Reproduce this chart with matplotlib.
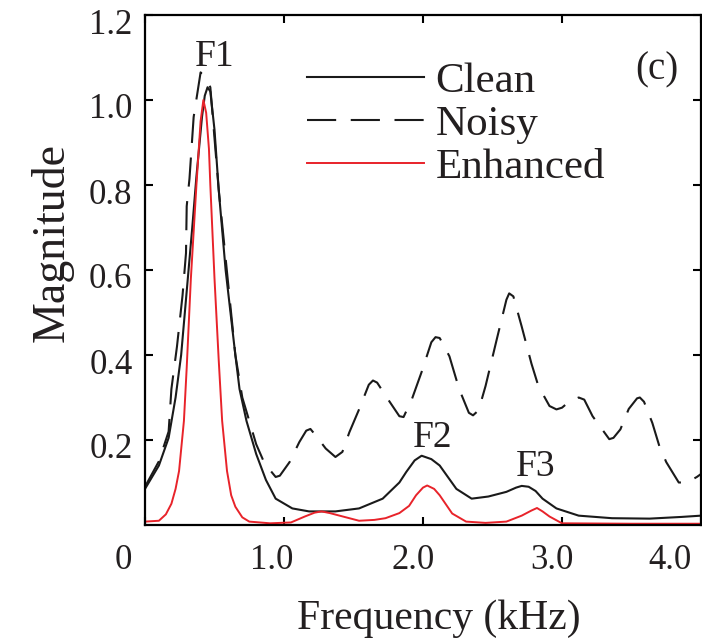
import matplotlib
matplotlib.use("Agg")
import matplotlib.pyplot as plt
from matplotlib.transforms import ScaledTranslation

plt.rcParams['font.family'] = ['Liberation Serif', 'DejaVu Serif']

# clean spectrum envelope
clean_x = [0.00, 0.10, 0.17, 0.22, 0.26, 0.30, 0.34, 0.37, 0.41, 0.43, 0.45, 0.47,
           0.50, 0.53, 0.58, 0.65, 0.68, 0.73, 0.80, 0.87, 0.94, 1.06, 1.18, 1.37,
           1.54, 1.71, 1.83, 1.88, 1.94, 1.99, 2.06, 2.12, 2.24, 2.35, 2.47, 2.60,
           2.67, 2.71, 2.76, 2.81, 2.86, 2.96, 3.12, 3.36, 3.63, 3.86, 4.00]
clean_y = [0.085, 0.14, 0.205, 0.30, 0.40, 0.55, 0.70, 0.82, 0.96, 1.01, 1.03, 1.02,
           0.93, 0.79, 0.60, 0.40, 0.32, 0.245, 0.167, 0.106, 0.062, 0.039, 0.032, 0.032,
           0.039, 0.062, 0.10, 0.125, 0.152, 0.163, 0.155, 0.14, 0.085, 0.062, 0.067, 0.078,
           0.088, 0.092, 0.09, 0.08, 0.062, 0.039, 0.022, 0.016, 0.015, 0.019, 0.022]

# noisy spectrum envelope
noisy_x = [0.00, 0.10, 0.17, 0.19, 0.23, 0.27, 0.295, 0.30, 0.32, 0.35, 0.40, 0.44,
           0.47, 0.53, 0.65, 0.70, 0.80, 0.86, 0.94, 0.97, 1.04, 1.11, 1.16, 1.19, 1.23,
           1.30, 1.37, 1.42, 1.47, 1.54, 1.61, 1.64, 1.67, 1.76, 1.83, 1.86, 1.92, 1.99,
           2.06, 2.09, 2.12, 2.19, 2.26, 2.33, 2.36, 2.40, 2.45, 2.53, 2.60, 2.62, 2.65, 2.71, 2.78,
           2.83, 2.91, 2.96, 3.00, 3.05, 3.12, 3.16, 3.22, 3.34, 3.37, 3.42, 3.48, 3.54, 3.56, 3.59,
           3.65, 3.70, 3.75, 3.84, 3.90, 3.97, 4.00]
noisy_y = [0.09, 0.15, 0.22, 0.32, 0.42, 0.54, 0.64, 0.75, 0.815, 0.96, 1.065, 1.05,
           1.03, 0.79, 0.40, 0.30, 0.19, 0.145, 0.113, 0.116, 0.148, 0.195, 0.222, 0.226, 0.21,
           0.18, 0.16, 0.172, 0.218, 0.272, 0.33, 0.34, 0.335, 0.29, 0.256, 0.254, 0.296, 0.36,
           0.43, 0.442, 0.44, 0.397, 0.32, 0.264, 0.258, 0.27, 0.327, 0.436, 0.53, 0.545, 0.538, 0.467, 0.38,
           0.327, 0.28, 0.272, 0.276, 0.29, 0.30, 0.295, 0.256, 0.202, 0.205, 0.225, 0.273, 0.298, 0.30, 0.29,
           0.24, 0.186, 0.148, 0.10, 0.10, 0.113, 0.12]

# enhanced spectrum envelope
enh_x = [0.00, 0.10, 0.15, 0.19, 0.22, 0.245, 0.28, 0.30, 0.33, 0.37, 0.40, 0.42,
         0.44, 0.46, 0.47, 0.50, 0.53, 0.555, 0.59, 0.62, 0.65, 0.70, 0.75, 0.90,
         1.05, 1.15, 1.22, 1.27, 1.33, 1.40, 1.54, 1.65, 1.73, 1.83, 1.90, 1.95,
         2.00, 2.03, 2.08, 2.12, 2.21, 2.31, 2.45, 2.60, 2.71, 2.78, 2.82, 2.86,
         2.91, 3.00, 3.50, 4.00]
enh_y = [0.008, 0.01, 0.025, 0.05, 0.085, 0.127, 0.245, 0.37, 0.58, 0.80, 0.95, 1.0,
         0.97, 0.885, 0.80, 0.58, 0.39, 0.245, 0.127, 0.07, 0.043, 0.018, 0.008, 0.004,
         0.006, 0.02, 0.029, 0.032, 0.028, 0.022, 0.01, 0.012, 0.016, 0.028, 0.045, 0.07,
         0.088, 0.093, 0.085, 0.07, 0.027, 0.008, 0.005, 0.008, 0.022, 0.034, 0.04, 0.032,
         0.02, 0.004, 0.003, 0.003]

formant_names = ['F1', 'F2', 'F3']
formant_x = [0.50, 2.07, 2.81]
formant_y = [1.08, 0.184, 0.116]

x_ticks = [0, 1, 2, 3, 4]
x_labels = ['0', '1.0', '2.0', '3.0', '4.0']
y_ticks = [0.2, 0.4, 0.6, 0.8, 1.0, 1.2]
y_labels = ['0.2', '0.4', '0.6', '0.8', '1.0', '1.2']

txt = '#231f20'
fig = plt.figure(figsize=(7.02, 6.42), dpi=100)
ax = fig.add_axes([145/702, 1 - 525/642, 556/702, 510/642])

ax.plot(clean_x, clean_y, color='#1a1a1a', lw=1.5, label='Clean')
ax.plot(noisy_x, noisy_y, color='#1a1a1a', lw=1.5, ls=(0, (14, 7)), label='Noisy')
ax.plot(enh_x, enh_y, color='#e8232a', lw=1.4, label='Enhanced')

for name, fx, fy in zip(formant_names, formant_x, formant_y):
    ax.text(fx, fy, name, ha='center', va='baseline', fontsize=27, color=txt)

ax.text(0.921, 0.892, '(c)', transform=ax.transAxes, ha='center', va='center',
        fontsize=28, color=txt)

ax.set_xlim(0, 4.0)
ax.set_ylim(0, 1.2)
ax.set_xticks(x_ticks)
ax.set_xticklabels(x_labels)
ax.set_yticks(y_ticks)
ax.set_yticklabels(y_labels)
ax.tick_params(direction='in', length=6, width=1.5, top=True, right=True,
               labelsize=25, labelcolor=txt)
ax.tick_params(axis='x', pad=14)
ax.tick_params(axis='y', pad=9)
for s in ax.spines.values():
    s.set_linewidth(1.6)

# hand-shift tick labels like the original figure
shifts = [-22, -12, -10, -10, -31]
for lab, dx in zip(ax.get_xticklabels(), shifts):
    lab.set_transform(lab.get_transform() + ScaledTranslation(dx / 100, 0, fig.dpi_scale_trans))
for lab in ax.get_yticklabels():
    lab.set_transform(lab.get_transform() + ScaledTranslation(0, -6 / 100, fig.dpi_scale_trans))

ax.set_xlabel('Frequency (kHz)', fontsize=30, color=txt)
ax.set_ylabel('Magnitude', fontsize=33, color=txt)
ax.xaxis.set_label_coords(0.529, -0.146)
ax.yaxis.set_label_coords(-0.128, 0.553)

ax.legend(loc='upper left', bbox_to_anchor=(0.291, 0.908), frameon=False,
          fontsize=31, handlelength=2.72, handletextpad=0.27, borderpad=0,
          borderaxespad=0, labelspacing=0.09, labelcolor=txt)

fig.savefig('out.png', dpi=100)
